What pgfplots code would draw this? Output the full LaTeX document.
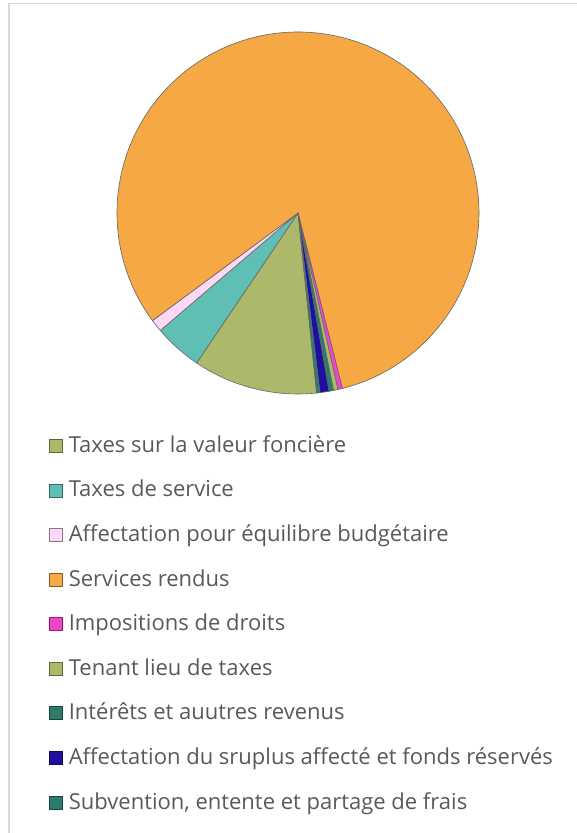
\documentclass[border=0pt]{standalone}
\usepackage{pgfplots}
\pgfplotsset{compat=1.18}
\usepackage{pgfplotstable}
\usepackage{fontspec}
\setmainfont{Open Sans}

\definecolor{cOlive}{RGB}{173,185,106}
\definecolor{cTeal}{RGB}{96,191,180}
\definecolor{cPink}{RGB}{253,215,245}
\definecolor{cOrange}{RGB}{245,168,67}
\definecolor{cMagenta}{RGB}{240,68,208}
\definecolor{cDkTeal}{RGB}{46,122,110}
\definecolor{cBlue}{RGB}{30,15,160}
\definecolor{textgray}{RGB}{89,89,89}
\definecolor{framegray}{RGB}{217,217,217}

% share of each slice, percent, clockwise from the first slice
\pgfplotstableread[col sep=comma]{
value,colour
11.1,cOlive
4.3,cTeal
1.1,cPink
81.2,cOrange
0.4,cMagenta
0.4,cOlive
0.4,cDkTeal
0.8,cBlue
0.3,cDkTeal
}\pietable

\begin{document}
\begin{tikzpicture}[x=1pt,y=1pt]
\begin{axis}[
  x=1pt, y=1pt,
  xmin=0, xmax=577, ymin=0, ymax=833,
  hide axis, clip=false,
  anchor=south west, at={(0,0)},
  legend cell align=left,
  legend image code/.code={\draw[line width=0.8pt,#1] (0pt,0pt) rectangle (13pt,13pt);},
  legend style={at={(axis cs:49,395.7)}, anchor=north west,
    draw=none, fill=none, inner sep=0pt, outer sep=0pt,
    row sep=24.6pt, column sep=6pt,
    font=\fontsize{22}{26}\selectfont, text=textgray,
    nodes={inner sep=0pt, anchor=base west, text height=15pt, text depth=5pt}},
]
\addlegendimage{fill=cOlive, draw=cOlive!55!black}
\addlegendentry{Taxes sur la valeur foncière}
\addlegendimage{fill=cTeal, draw=cTeal!55!black}
\addlegendentry{Taxes de service}
\addlegendimage{fill=cPink, draw=cPink!55!black}
\addlegendentry{Affectation pour équilibre budgétaire}
\addlegendimage{fill=cOrange, draw=cOrange!55!black}
\addlegendentry{Services rendus}
\addlegendimage{fill=cMagenta, draw=cMagenta!55!black}
\addlegendentry{Impositions de droits}
\addlegendimage{fill=cOlive, draw=cOlive!55!black}
\addlegendentry{Tenant lieu de taxes}
\addlegendimage{fill=cDkTeal, draw=cDkTeal!55!black}
\addlegendentry{Intérêts et auutres revenus}
\addlegendimage{fill=cBlue, draw=cBlue!55!black}
\addlegendentry{Affectation du sruplus affecté et fonds réservés}
\addlegendimage{fill=cDkTeal, draw=cDkTeal!55!black}
\addlegendentry{Subvention, entente et partage de frais}

\pgfmathsetmacro\angA{-84.1}
\pgfplotsforeachungrouped \i in {0,...,8}{%
  \pgfplotstablegetelem{\i}{value}\of\pietable
  \pgfmathsetmacro\angB{\angA-3.6*\pgfplotsretval}
  \pgfplotstablegetelem{\i}{colour}\of\pietable
  \edef\temp{\noexpand\filldraw[fill=\pgfplotsretval, draw=black!60, line width=0.6pt]
    (axis cs:298,620) -- ++(\angA:181pt) arc[start angle=\angA, end angle=\angB, radius=181pt] -- cycle;}%
  \temp
  \global\let\angA\angB
}
\end{axis}
\draw[framegray, line width=1.4pt] (9,-20) -- (9,829.5) -- (600,829.5);
\pgfresetboundingbox
\path (0,0) rectangle (577,833);
\end{tikzpicture}
\end{document}
